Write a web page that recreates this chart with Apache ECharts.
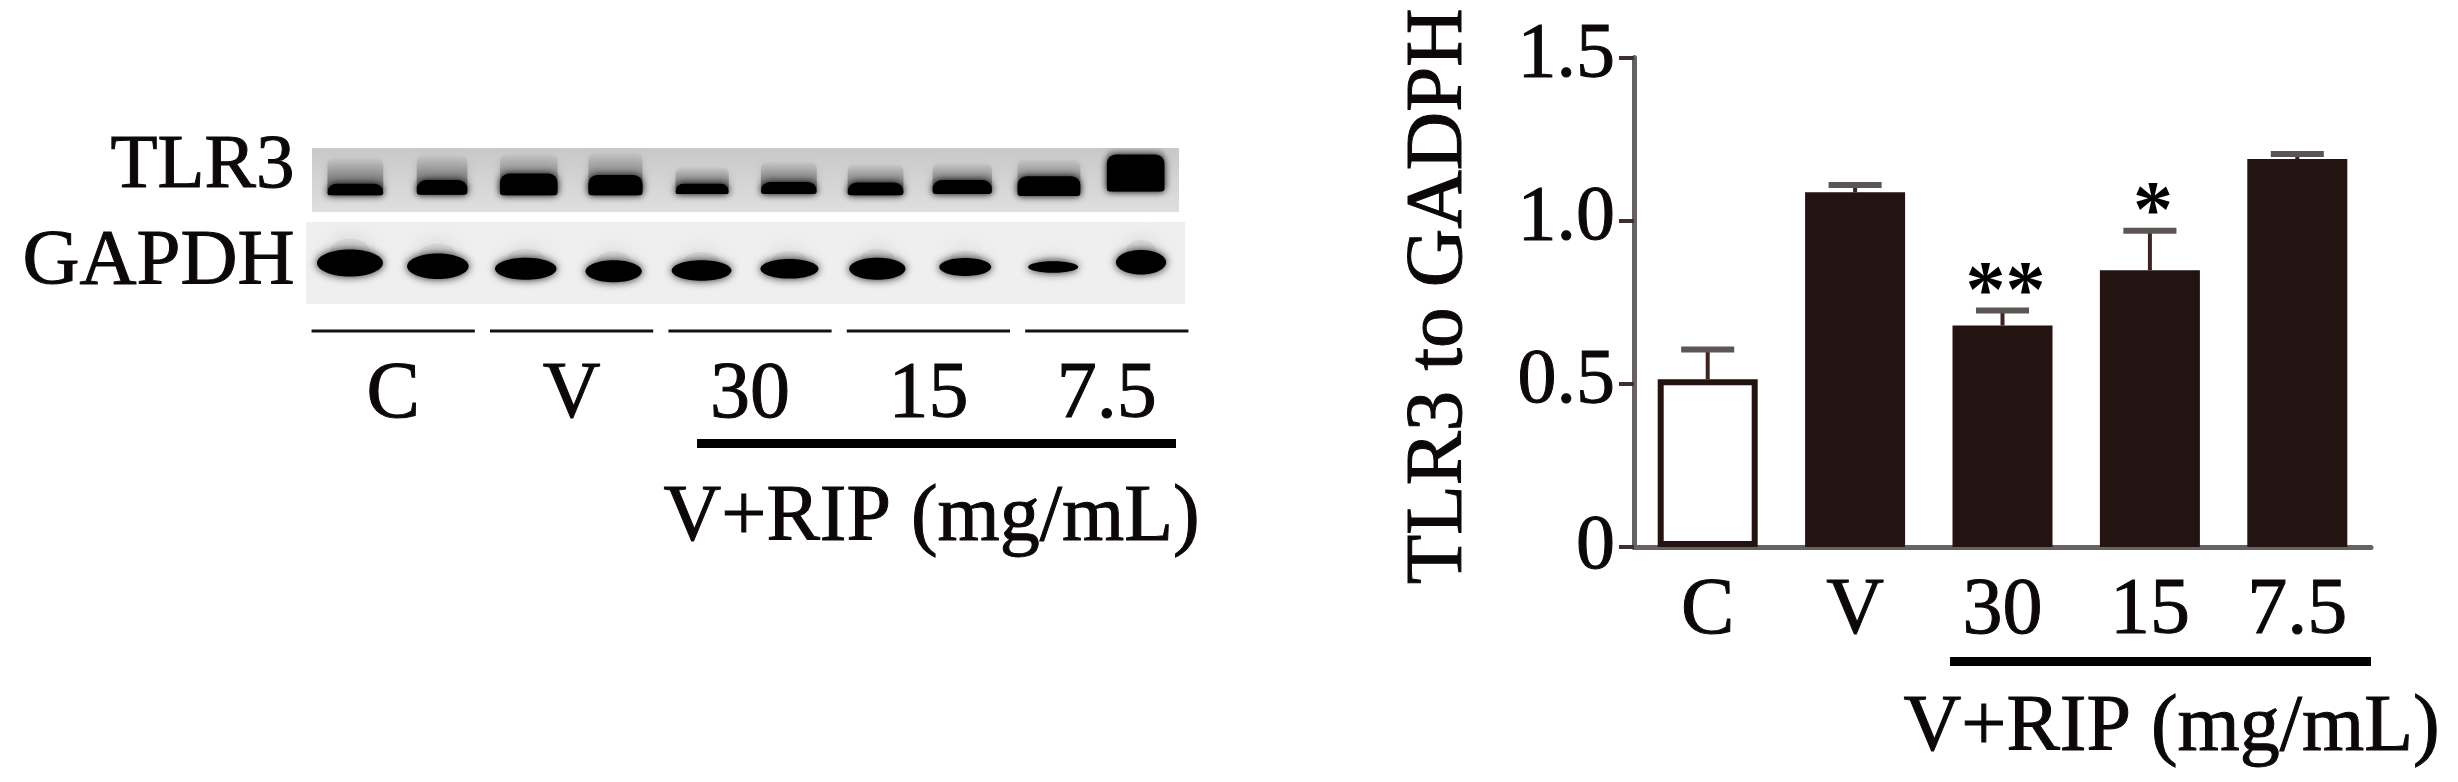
<!DOCTYPE html>
<html>
<head>
<meta charset="utf-8">
<style>html,body{margin:0;padding:0;background:#fff}#c{width:2458px;height:782px}</style>
<script src="https://cdn.jsdelivr.net/npm/echarts@6/dist/echarts.min.js"></script>
</head>
<body>
<div id="c"></div>
<script>
// Bar chart data
const categories = ['C', 'V', '30', '15', '7.5'];
const ratioMeans = [0.514, 1.087, 0.679, 0.848, 1.189];
const ratioUpper = [0.605, 1.109, 0.725, 0.969, 1.204];
const significance = ['', '', '**', '*', ''];
const ratioTicks = { min: 0, max: 1.5, step: 0.5 };

// Blot lanes: ten lanes, axis units (percent of blot height, fraction of lane)
const lanes = ['1', '2', '3', '4', '5', '6', '7', '8', '9', '10'];
const tlr3BandLow  = [26, 27, 26, 26, 28, 28, 26, 28, 25, 32];
const tlr3BandHigh = [44, 50, 60, 58, 44, 47, 46, 50, 56, 90];
const tlr3Smear    = [84, 88, 90, 92, 70, 78, 74, 76, 82, 100];
const tlr3Width    = [0.69, 0.63, 0.71, 0.67, 0.66, 0.69, 0.69, 0.73, 0.77, 0.71];
const gapdhCentre  = [50, 46, 43, 40, 41, 43, 43, 45, 45, 51];
const gapdhThick   = [33, 31, 27, 27, 25, 24, 27, 22, 14, 30];
const gapdhWidth   = [0.75, 0.70, 0.70, 0.64, 0.68, 0.66, 0.64, 0.59, 0.57, 0.57];

const serif = '"Liberation Serif", "Times New Roman", serif';
const ink = '#0c0808';
const axisGrey = '#686363';
const tickInk = '#3f2e2c';
const barInk = '#231311';

function renderTlr3(params, api) {
  const lane = api.value(0);
  const w = api.size([1, 0])[0] * api.value(4);
  const low = api.coord([lane, api.value(1)]);
  const high = api.coord([lane, api.value(2)]);
  const smear = api.coord([lane, api.value(3)]);
  const x = low[0] - w / 2;
  return { type: 'group', children: [
    { type: 'rect', shape: { x: x + 2, y: smear[1], width: w - 4, height: low[1] - smear[1], r: 6 },
      style: {
        fill: { type: 'linear', x: 0, y: 0, x2: 0, y2: 1, colorStops: [
          { offset: 0, color: 'rgba(150,150,150,0.1)' },
          { offset: 0.45, color: 'rgba(120,120,120,0.65)' },
          { offset: 1, color: 'rgba(60,60,60,0.95)' } ] },
        shadowBlur: 8, shadowColor: 'rgba(130,130,130,0.6)' } },
    { type: 'rect', shape: { x: x + 2, y: high[1], width: w - 4, height: low[1] - high[1], r: [9, 9, 3, 3] },
      style: { fill: '#000', shadowBlur: 7, shadowColor: '#111' } }
  ] };
}
function renderGapdh(params, api) {
  const lane = api.value(0);
  const w = api.size([1, 0])[0] * api.value(3);
  const c = api.coord([lane, api.value(1)]);
  const h = api.size([0, api.value(2)])[1];
  return { type: 'group', children: [
    { type: 'ellipse', shape: { cx: c[0], cy: c[1] - h * 0.45, rx: w * 0.3, ry: h * 0.45 },
      style: { fill: 'rgba(200,200,200,0.45)', shadowBlur: 20, shadowColor: 'rgba(170,170,170,1)' } },
    { type: 'ellipse', shape: { cx: c[0], cy: c[1], rx: w / 2, ry: h / 2 },
      style: { fill: '#000', shadowBlur: 9, shadowColor: '#222' } }
  ] };
}
function renderError(params, api) {
  const i = api.value(0);
  const base = api.coord([i, api.value(1)]);
  const top = api.coord([i, api.value(2)]);
  const cap = api.size([1, 0])[0] * 0.18;
  const kids = [
    { type: 'line', shape: { x1: base[0], y1: base[1], x2: base[0], y2: top[1] },
      style: { stroke: '#3a2320', lineWidth: 4 } },
    { type: 'line', shape: { x1: base[0] - cap, y1: top[1], x2: base[0] + cap, y2: top[1] },
      style: { stroke: '#5b5555', lineWidth: 6 } }
  ];
  if (significance[i]) {
    kids.push({ type: 'text', style: {
      x: base[0] + 3, y: top[1] - 15, text: significance[i], align: 'center', verticalAlign: 'middle',
      fontFamily: serif, fontWeight: 'bold', fontSize: 80, fill: '#000' } });
  }
  return { type: 'group', children: kids };
}
function renderRule(params, api) {
  const i = api.value(0);
  const c = api.coord([i, 0]);
  const w = api.size([1, 0])[0] * 0.915;
  return { type: 'rect', shape: { x: c[0] - w / 2, y: c[1] - 1.5, width: w, height: 3 }, style: { fill: '#111' } };
}

const heavy = { textBorderColor: ink, textBorderWidth: 1 };
const heavyText = { stroke: ink, lineWidth: 1 };
const hiddenAxis = { show: false };
const option = {
  animation: false,
  backgroundColor: '#fff',
  grid: [
    { left: 1634, top: 57.5, width: 737, height: 489.5 },
    { left: 312, top: 148, width: 867, height: 64, show: true, borderWidth: 0,
      backgroundColor: { type: 'linear', x: 0, y: 0, x2: 0, y2: 1, colorStops: [
        { offset: 0, color: '#c8c8c8' }, { offset: 1, color: '#dfdfdf' } ] } },
    { left: 306, top: 222, width: 879, height: 82, show: true, borderWidth: 0, backgroundColor: '#efefef' },
    { left: 304, top: 330, width: 892, height: 1 }
  ],
  xAxis: [
    { gridIndex: 0, type: 'category', data: categories,
      axisLine: { lineStyle: { color: axisGrey, width: 5 } },
      axisTick: { alignWithLabel: true, length: 15, lineStyle: { color: tickInk, width: 4 } },
      axisLabel: { margin: 25, interval: 0, fontFamily: serif, fontSize: 80, color: ink, ...heavy } },
    { gridIndex: 1, type: 'category', data: lanes, ...hiddenAxis },
    { gridIndex: 2, type: 'category', data: lanes, ...hiddenAxis },
    { gridIndex: 3, type: 'category', data: categories,
      axisLine: { show: false }, axisTick: { show: false },
      axisLabel: { margin: 25, interval: 0, fontFamily: serif, fontSize: 80, color: ink, ...heavy } }
  ],
  yAxis: [
    { gridIndex: 0, type: 'value', min: ratioTicks.min, max: ratioTicks.max, interval: ratioTicks.step,
      splitLine: { show: false },
      axisLine: { show: true, lineStyle: { color: axisGrey, width: 5 } },
      axisTick: { show: true, length: 15, lineStyle: { color: tickInk, width: 4 } },
      axisLabel: { margin: 19, fontFamily: serif, fontSize: 78, color: ink, ...heavy,
        padding: [0, 0, 4, 0],
        formatter: v => v === 0 ? '{zero|0}' : v.toFixed(1),
        rich: { zero: { fontFamily: serif, fontSize: 78, color: ink, ...heavy, padding: [6, 0, 0, 0] } } },
      name: 'TLR3 to GADPH', nameLocation: 'middle', nameRotate: 90, nameGap: 154,
      nameTextStyle: { fontFamily: serif, fontSize: 81, color: ink, ...heavy, padding: [0, 0, 0, 12] } },
    { gridIndex: 1, type: 'value', min: 0, max: 100, ...hiddenAxis },
    { gridIndex: 2, type: 'value', min: 0, max: 100, ...hiddenAxis },
    { gridIndex: 3, type: 'value', min: 0, max: 1, ...hiddenAxis }
  ],
  series: [
    { type: 'custom', xAxisIndex: 0, yAxisIndex: 0, z: 1, renderItem: renderError,
      data: categories.map((c, i) => [i, ratioMeans[i], ratioUpper[i]]) },
    { type: 'bar', xAxisIndex: 0, yAxisIndex: 0, z: 2, barWidth: 100,
      data: ratioMeans.map((v, i) => ({ value: v, itemStyle: {
        color: i === 0 ? '#fff' : barInk, borderColor: barInk, borderWidth: i === 0 ? 6 : 5 } })) },
    { type: 'custom', xAxisIndex: 1, yAxisIndex: 1, clip: true, renderItem: renderTlr3,
      data: lanes.map((l, i) => [i, tlr3BandLow[i], tlr3BandHigh[i], tlr3Smear[i], tlr3Width[i]]) },
    { type: 'custom', xAxisIndex: 2, yAxisIndex: 2, clip: true, renderItem: renderGapdh,
      data: lanes.map((l, i) => [i, gapdhCentre[i], gapdhThick[i], gapdhWidth[i]]) },
    { type: 'custom', xAxisIndex: 3, yAxisIndex: 3, renderItem: renderRule,
      data: categories.map((c, i) => [i]) }
  ],
  graphic: [
    { type: 'text', left: 110, top: 128, style: { text: 'TLR3', font: '77px ' + serif, fill: ink, ...heavyText } },
    { type: 'text', left: 22, top: 222, style: { text: 'GAPDH', font: '79px ' + serif, fill: ink, ...heavyText } },
    { type: 'rect', left: 697, top: 439, shape: { width: 479, height: 9 }, style: { fill: '#000' } },
    { type: 'text', left: 663, top: 478, style: { text: 'V+RIP (mg/mL)', font: '80px ' + serif, fill: ink, ...heavyText } },
    { type: 'rect', left: 1950, top: 657, shape: { width: 421, height: 9 }, style: { fill: '#000' } },
    { type: 'text', left: 1903, top: 688, style: { text: 'V+RIP (mg/mL)', font: '80px ' + serif, fill: ink, ...heavyText } }
  ]
};
echarts.init(document.getElementById('c')).setOption(option);
</script>
</body>
</html>
